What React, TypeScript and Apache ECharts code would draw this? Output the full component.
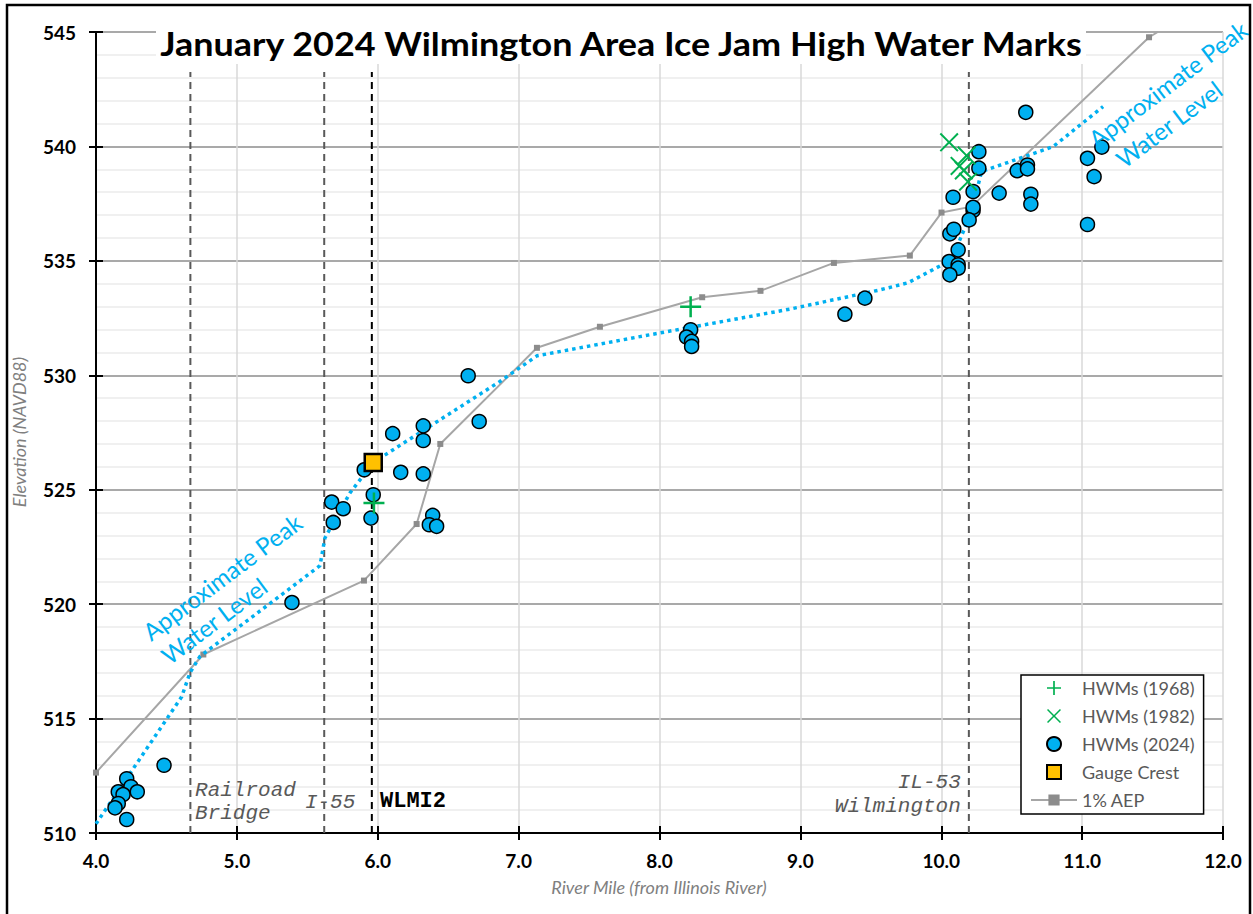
import React, { useEffect, useRef } from "react";
import * as echarts from "echarts";

// ---------- Data ----------
const hwm1968: [number, number][] = [
  [5.973, 524.42],
  [8.221, 532.99],
];

const hwm1982: [number, number][] = [
  [10.056, 540.18],
  [10.18, 539.6],
  [10.13, 539.15],
  [10.16, 538.95],
  [10.19, 538.46],
];

const hwm2024: [number, number][] = [
  [4.218, 512.37], [4.248, 512.02], [4.158, 511.8], [4.192, 511.68], [4.293, 511.8],
  [4.158, 511.29], [4.135, 511.1], [4.218, 510.59], [4.483, 512.96],
  [5.391, 520.07],
  [6.642, 529.98], [6.72, 527.98], [6.106, 527.45], [6.323, 527.79], [6.323, 527.15],
  [6.163, 525.76], [6.323, 525.69], [5.904, 525.87], [5.968, 524.78], [5.673, 524.46],
  [5.755, 524.17], [5.684, 523.57], [5.952, 523.76], [6.39, 523.88], [6.366, 523.47],
  [6.418, 523.4],
  [8.221, 531.99], [8.192, 531.67], [8.228, 531.48], [8.228, 531.26],
  [9.316, 532.67], [9.458, 533.37],
  [10.6, 541.49], [10.267, 539.77], [10.267, 539.05], [10.084, 537.78], [10.226, 538.03],
  [10.411, 537.96], [10.539, 538.94], [10.612, 539.19], [10.612, 539.02], [10.636, 537.91],
  [10.636, 537.48], [11.038, 539.48], [11.14, 539.97], [11.085, 538.68], [11.038, 536.59],
  [10.226, 537.2], [10.226, 537.34], [10.198, 536.79], [10.061, 536.18], [10.089, 536.38],
  [10.12, 535.48], [10.056, 534.97], [10.12, 534.83], [10.12, 534.68], [10.061, 534.39],
];

const gaugeCrest: [number, number][] = [[5.968, 526.19]];

const aep1pct: [number, number][] = [
  [4.0, 512.64], [4.762, 517.8], [5.902, 521.03], [6.276, 523.5], [6.444, 527.0],
  [7.13, 531.2], [7.577, 532.12], [8.303, 533.41], [8.717, 533.69], [9.238, 534.91],
  [9.777, 535.23], [10.002, 537.11], [10.215, 537.37], [11.475, 544.77], [11.537, 545.0],
];

const peakWaterLevel: [number, number][] = [
  [4.0, 510.4], [4.608, 515.95], [4.667, 517.0], [4.738, 517.72], [5.59, 521.68],
  [5.625, 522.89], [5.803, 524.86], [5.968, 526.19], [6.867, 529.73], [7.13, 530.85],
  [7.861, 531.69], [8.925, 532.89], [9.564, 533.73], [9.763, 534.04], [10.073, 535.04],
  [10.215, 537.15], [10.286, 538.9], [10.794, 539.99], [11.149, 541.74],
];

// reference locations (river mile) and their vertical extent
const refLines = [
  { name: "Railroad Bridge", mile: 4.67, color: "#595959" },
  { name: "I-55", mile: 5.62, color: "#595959" },
  { name: "WLMI2", mile: 5.958, color: "#000000" },
  { name: "IL-53 Wilmington", mile: 10.196, color: "#595959" },
];
const refLineBottom = 510;
const refLineTop = 543.25;

const xTicks = { min: 4, max: 12, step: 1 };
const yTicks = { min: 510, max: 545, step: 5 };

// annotations anchored in data coordinates
const annotations = [
  { text: "Approximate Peak", x: 4.894, y: 521.2, kind: "blue", align: "center" },
  { text: "Water Level", x: 4.837, y: 519.28, kind: "blue", align: "center" },
  { text: "Approximate Peak", x: 11.608, y: 542.73, kind: "blue", align: "center" },
  { text: "Water Level", x: 11.615, y: 540.98, kind: "blue", align: "center" },
  { text: "Railroad", x: 4.703, y: 511.86, kind: "mono", align: "left" },
  { text: "Bridge", x: 4.703, y: 510.85, kind: "mono", align: "left" },
  { text: "I-55", x: 5.483, y: 511.33, kind: "mono", align: "left" },
  { text: "WLMI2", x: 6.016, y: 511.38, kind: "monoBold", align: "left" },
  { text: "IL-53", x: 10.139, y: 512.21, kind: "mono", align: "right" },
  { text: "Wilmington", x: 10.139, y: 511.16, kind: "mono", align: "right" },
];

const TITLE = "January 2024 Wilmington Area Ice Jam High Water Marks";
const X_NAME = "River Mile (from Illinois River)";
const Y_NAME = "Elevation (NAVD88)";

const PLUS_PATH = "path://M8.8,0H11.2V8.8H20V11.2H11.2V20H8.8V11.2H0V8.8H8.8Z";
const d = 1.5;
const X_PATH = `path://M0,${d}L${d},0L10,${10 - d}L${20 - d},0L20,${d}L${10 + d},10L20,${20 - d}L${20 - d},20L10,${10 + d}L${d},20L0,${20 - d}L${10 - d},10Z`;
const SQUARE_PATH = "path://M0,0H17V17H0Z";

export default function App() {
  const ref = useRef<HTMLDivElement>(null);

  useEffect(() => {
    if (!ref.current) return;
    const chart = echarts.init(ref.current, undefined, { renderer: "svg" });
    const sansFont = "Lato, 'Open Sans', sans-serif";
    const monoFont = "'Liberation Mono', 'DejaVu Sans Mono', monospace";

    const refSeries = refLines.map((r) => ({
      type: "line",
      name: r.name,
      data: [
        [r.mile, refLineBottom],
        [r.mile, refLineTop],
      ],
      symbol: "none",
      silent: true,
      lineStyle: { color: r.color, width: 2, type: [7, 5] },
      z: 2,
    }));

    const aepData = aep1pct.map((p, i) =>
      i === aep1pct.length - 1 ? { value: p, symbol: "none" } : { value: p }
    );

    const option: any = {
      animation: false,
      backgroundColor: "#ffffff",
      grid: { left: 96, right: 30, top: 32, bottom: 81, containLabel: false },
      legend: {
        orient: "vertical",
        left: 1021,
        top: 675,
        padding: [4, 9, 5, 9],
        itemWidth: 46,
        itemHeight: 14,
        itemGap: 10,
        symbolKeepAspect: true,
        backgroundColor: "#ffffff",
        borderColor: "#000000",
        borderWidth: 1.5,
        borderRadius: 0,
        textStyle: { color: "#595959", fontSize: 18, fontFamily: sansFont },
        data: ["HWMs (1968)", "HWMs (1982)", "HWMs (2024)", "Gauge Crest", "1% AEP"],
      },
      xAxis: [
        {
          type: "value",
          min: xTicks.min,
          max: xTicks.max,
          interval: xTicks.step,
          axisLine: { show: true, onZero: false, lineStyle: { color: "#000", width: 2 } },
          axisTick: { show: true, length: 7, lineStyle: { color: "#000", width: 2 } },
          axisLabel: {
            formatter: (v: number) => v.toFixed(1),
            fontFamily: sansFont,
            fontWeight: "bold",
            fontSize: 19,
            color: "#000",
            margin: 18,
          },
          splitLine: { show: true, lineStyle: { color: "#d9d9d9", width: 1.5 } },
        },
        {
          type: "value",
          position: "bottom",
          min: xTicks.min,
          max: xTicks.max,
          interval: xTicks.step,
          axisLine: { show: false },
          axisTick: { show: true, inside: true, length: 7, lineStyle: { color: "#000", width: 2 } },
          axisLabel: { show: false },
          splitLine: { show: false },
        },
      ],
      yAxis: [
        {
          type: "value",
          min: yTicks.min,
          max: yTicks.max,
          interval: yTicks.step,
          axisLine: { show: true, onZero: false, lineStyle: { color: "#000", width: 2 } },
          axisTick: { show: true, length: 7, lineStyle: { color: "#000", width: 2 } },
          axisLabel: {
            fontFamily: sansFont,
            fontWeight: "bold",
            fontSize: 19,
            color: "#000",
            margin: 20,
          },
          splitLine: { show: true, lineStyle: { color: "#8c8c8c", width: 1.5 } },
          minorTick: { show: false, splitNumber: 5 },
          minorSplitLine: { show: true, lineStyle: { color: "#ebebeb", width: 1.5 } },
        },
        {
          type: "value",
          position: "left",
          min: yTicks.min,
          max: yTicks.max,
          interval: yTicks.step,
          axisLine: { show: false },
          axisTick: { show: true, inside: true, length: 7, lineStyle: { color: "#000", width: 2 } },
          axisLabel: { show: false },
          splitLine: { show: false },
        },
      ],
      series: [
        {
          type: "line",
          name: "1% AEP",
          data: aepData,
          symbol: "rect",
          symbolSize: 6,
          showSymbol: true,
          itemStyle: { color: "#8c8c8c" },
          lineStyle: { color: "#a6a6a6", width: 2 },
          z: 3,
        },
        {
          type: "line",
          name: "Approximate Peak Water Level",
          data: peakWaterLevel,
          symbol: "none",
          lineStyle: { color: "#00b0f0", width: 3.5, type: [3.5, 4] },
          z: 4,
        },
        ...refSeries,
        {
          type: "scatter",
          name: "HWMs (2024)",
          data: hwm2024,
          symbol: "circle",
          symbolSize: 14,
          itemStyle: { color: "#00b0f0", borderColor: "#000", borderWidth: 1.5, opacity: 1 },
          z: 5,
        },
        {
          type: "scatter",
          name: "Gauge Crest",
          data: gaugeCrest,
          symbol: SQUARE_PATH,
          symbolSize: 17,
          symbolKeepAspect: true,
          itemStyle: { color: "#ffc000", borderColor: "#000", borderWidth: 2.5, opacity: 1 },
          z: 6,
        },
        {
          type: "scatter",
          name: "HWMs (1968)",
          data: hwm1968,
          symbol: PLUS_PATH,
          symbolSize: 21,
          symbolKeepAspect: true,
          itemStyle: { color: "#00b050", opacity: 1 },
          z: 7,
        },
        {
          type: "scatter",
          name: "HWMs (1982)",
          data: hwm1982,
          symbol: X_PATH,
          symbolSize: 19,
          symbolKeepAspect: true,
          itemStyle: { color: "#00b050", opacity: 1 },
          z: 7,
        },
      ],
    };

    chart.setOption(option);

    const graphics: any[] = [];
    annotations.forEach((a, i) => {
      const p = chart.convertToPixel({ xAxisIndex: 0, yAxisIndex: 0 }, [a.x, a.y]) as number[];
      if (!p) return;
      let style: any;
      let rotation = 0;
      if (a.kind === "blue") {
        rotation = (37 * Math.PI) / 180;
        style = { fill: "#00b0f0", fontSize: 24, fontFamily: sansFont };
      } else if (a.kind === "monoBold") {
        style = { fill: "#000", fontSize: 22, fontFamily: monoFont, fontWeight: "bold" };
      } else {
        style = { fill: "#595959", fontSize: 21, fontFamily: monoFont, fontStyle: "italic" };
      }
      graphics.push({
        type: "text",
        id: "anno" + i,
        x: p[0],
        y: p[1],
        rotation,
        z: 50,
        silent: true,
        style: { ...style, text: a.text, align: a.align, verticalAlign: "middle" },
      });
    });

    graphics.push({
      type: "rect",
      id: "titleBg",
      z: 60,
      silent: true,
      shape: { x: 156, y: 24, width: 930, height: 40 },
      style: { fill: "#ffffff" },
    });
    graphics.push({
      type: "text",
      id: "title",
      x: 621,
      y: 43,
      scaleX: 1.09,
      z: 61,
      silent: true,
      style: {
        text: TITLE,
        fill: "#000",
        fontSize: 33,
        fontWeight: "bold",
        fontFamily: sansFont,
        align: "center",
        verticalAlign: "middle",
      },
    });
    graphics.push({
      type: "text",
      id: "xname",
      x: 659,
      y: 887,
      z: 50,
      silent: true,
      style: {
        text: X_NAME,
        fill: "#7f7f7f",
        fontSize: 18,
        fontStyle: "italic",
        fontFamily: sansFont,
        align: "center",
        verticalAlign: "middle",
      },
    });
    graphics.push({
      type: "text",
      id: "yname",
      x: 19,
      y: 432,
      rotation: Math.PI / 2,
      z: 50,
      silent: true,
      style: {
        text: Y_NAME,
        fill: "#7f7f7f",
        fontSize: 18,
        fontStyle: "italic",
        fontFamily: sansFont,
        align: "center",
        verticalAlign: "middle",
      },
    });
    graphics.push({
      type: "rect",
      id: "frame",
      z: 100,
      silent: true,
      shape: { x: 7, y: 5, width: 1243, height: 930 },
      style: { fill: "none", stroke: "#000", lineWidth: 2.5 },
    });

    chart.setOption({ graphic: graphics });

    return () => {
      chart.dispose();
    };
  }, []);

  return (
    <div
      ref={ref}
      style={{ position: "fixed", left: 0, top: 0, width: 1253, height: 914, background: "#fff" }}
    />
  );
}
